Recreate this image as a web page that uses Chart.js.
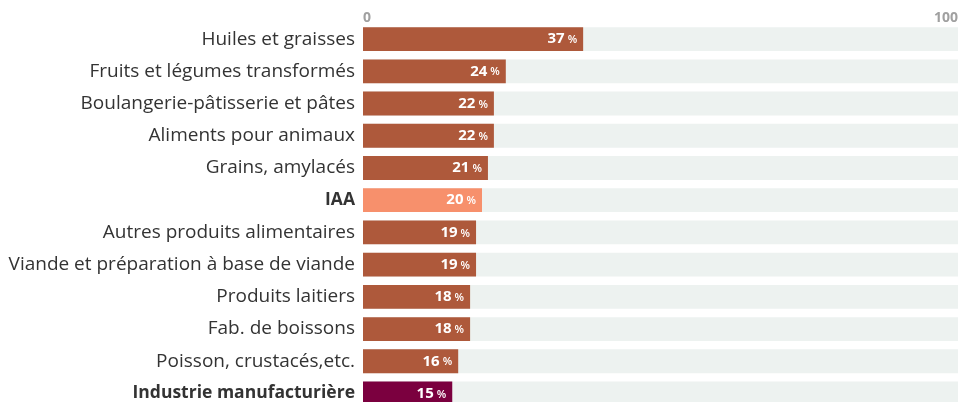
<!DOCTYPE html>
<html>
<head>
<meta charset="utf-8">
<script src="https://cdn.jsdelivr.net/npm/chart.js@4"></script>
<style>
  html, body { margin: 0; padding: 0; background: #fff; overflow: hidden; }
  #wrap { width: 961px; height: 421px; }
</style>
</head>
<body>
<div id="wrap"><canvas id="chart" width="961" height="421"></canvas></div>
<script>
// categories and shares (%)
const categories = [
  'Huiles et graisses',
  'Fruits et légumes transformés',
  'Boulangerie-pâtisserie et pâtes',
  'Aliments pour animaux',
  'Grains, amylacés',
  'IAA',
  'Autres produits alimentaires',
  'Viande et préparation à base de viande',
  'Produits laitiers',
  'Fab. de boissons',
  'Poisson, crustacés,etc.',
  'Industrie manufacturière'
];
const values = [37, 24, 22, 22, 21, 20, 19, 19, 18, 18, 16, 15];
const maxValue = 100;
const boldLabels = ['IAA', 'Industrie manufacturière'];

const FONT = '"Open Sans", Lato, sans-serif';

function barColor(label) {
  if (label === 'IAA') return '#f7906c';
  if (label === 'Industrie manufacturière') return '#7b003f';
  return '#ae593b';
}

// white value labels at the end of each bar
const valueLabels = {
  id: 'valueLabels',
  afterDatasetsDraw(chart) {
    const ctx = chart.ctx;
    const meta = chart.getDatasetMeta(0);
    ctx.save();
    ctx.fillStyle = '#fff';
    ctx.textBaseline = 'middle';
    meta.data.forEach(function (bar, i) {
      const num = String(values[i]);
      const right = bar.x - 6;
      ctx.font = '600 11px ' + FONT;
      const pw = ctx.measureText('%').width;
      ctx.textAlign = 'right';
      ctx.fillText('%', right, bar.y + 1);
      ctx.font = 'bold 15px ' + FONT;
      ctx.fillText(num, right - pw - 3, bar.y);
    });
    ctx.restore();
  }
};

const ctx = document.getElementById('chart');
const myChart = new Chart(ctx, {
  type: 'bar',
  data: {
    labels: categories,
    datasets: [
      {
        data: values,
        backgroundColor: categories.map(barColor),
        categoryPercentage: 0.74,
        barPercentage: 1,
        grouped: false,
        order: 0
      },
      {
        data: categories.map(() => maxValue),
        backgroundColor: '#edf2f0',
        categoryPercentage: 0.74,
        barPercentage: 1,
        grouped: false,
        order: 1
      }
    ]
  },
  options: {
    indexAxis: 'y',
    responsive: false,
    animation: false,
    layout: { padding: { left: 0, right: 3, top: 0, bottom: 0 } },
    plugins: {
      legend: { display: false },
      tooltip: { enabled: false }
    },
    scales: {
      x: {
        position: 'top',
        min: 0,
        max: 100,
        grid: { display: false, drawTicks: false },
        border: { display: false },
        afterFit: function (scale) { scale.height = 23; },
        afterBuildTicks: function (scale) {
          scale.ticks = [{ value: 0 }, { value: 100 }];
        },
        ticks: {
          align: 'inner',
          padding: -3,
          color: '#a0a0a0',
          font: { family: FONT, size: 14, weight: 'bold' }
        }
      },
      y: {
        grid: { display: false },
        border: { display: false },
        afterFit: function (scale) { scale.width = 363; },
        ticks: {
          padding: 0,
          color: '#333',
          font: function (c) {
            const isBold = boldLabels.includes(categories[c.index]);
            return {
              family: FONT,
              size: isBold ? 17.5 : 19,
              weight: isBold ? 'bold' : 'normal'
            };
          }
        }
      }
    }
  },
  plugins: [valueLabels]
});
</script>
</body>
</html>
